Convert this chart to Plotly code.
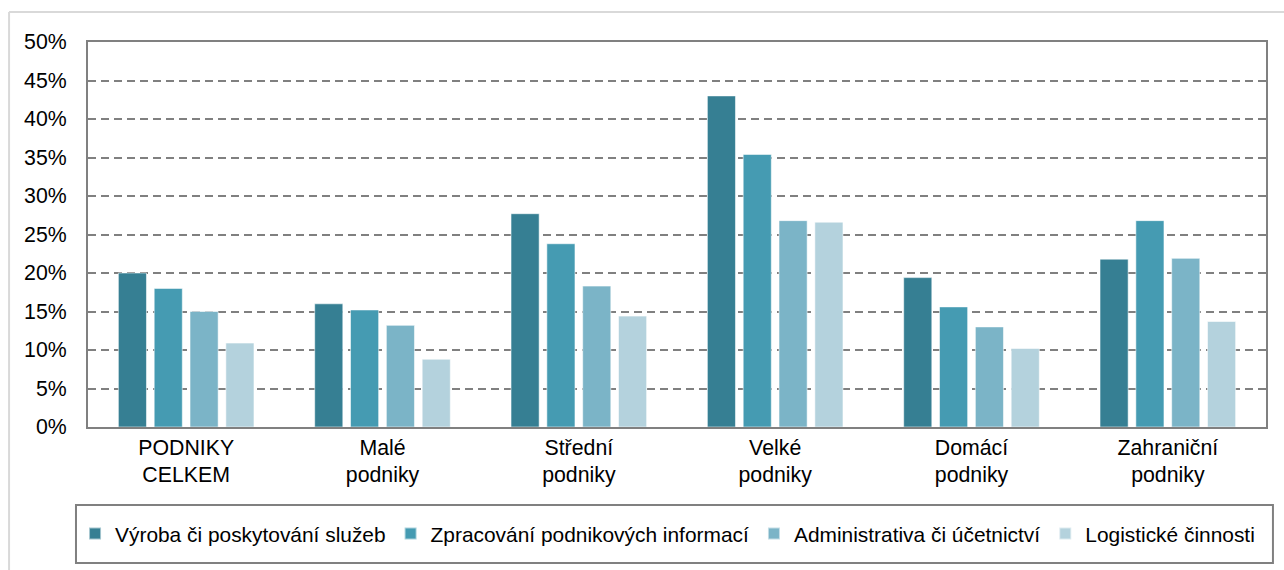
import plotly.graph_objects as go

categories = ["PODNIKY<br>CELKEM", "Malé<br>podniky", "Střední<br>podniky",
              "Velké<br>podniky", "Domácí<br>podniky", "Zahraniční<br>podniky"]
series_names = ["Výroba či poskytování služeb", "Zpracování podnikových informací",
                "Administrativa či účetnictví", "Logistické činnosti"]
vyroba = [0.200, 0.160, 0.277, 0.430, 0.194, 0.218]
zpracovani = [0.180, 0.152, 0.238, 0.354, 0.156, 0.268]
administrativa = [0.150, 0.132, 0.183, 0.268, 0.130, 0.219]
logistika = [0.109, 0.088, 0.144, 0.266, 0.102, 0.137]
colors = ["#367f93", "#459bb2", "#7bb4c7", "#b4d2dd"]
yticks = [0, 0.05, 0.10, 0.15, 0.20, 0.25, 0.30, 0.35, 0.40, 0.45, 0.50]

fig = go.Figure()
for name, vals, col in zip(series_names, [vyroba, zpracovani, administrativa, logistika], colors):
    fig.add_trace(go.Bar(x=categories, y=vals, name=name,
                         marker=dict(color=col, line=dict(color="rgba(255,255,255,0.55)", width=1))))

font = "Liberation Sans, Arial, sans-serif"
fs = 21.3
fig.update_layout(
    width=1284, height=570,
    margin=dict(l=88, r=18, t=42, b=143, autoexpand=False),
    paper_bgcolor="white", plot_bgcolor="white",
    font=dict(family=font, size=fs, color="#000000"),
    barmode="group", bargap=0.27, bargroupgap=0.215,
    showlegend=True,
    legend=dict(orientation="h", x=-0.011, xanchor="left", y=-0.278, yanchor="middle",
                bgcolor="rgba(0,0,0,0)", borderwidth=0, font=dict(size=20.9),
                itemsizing="constant"),
    xaxis=dict(showline=True, linecolor="#808080", linewidth=2, mirror=True,
               ticks="", tickfont=dict(size=fs), showgrid=False, automargin=False),
    yaxis=dict(range=[0, 0.5], tickvals=yticks, tickformat=".0%",
               showline=True, linecolor="#808080", linewidth=2, mirror=True,
               showgrid=True, gridcolor="#808080", gridwidth=2, griddash="8px,5px",
               ticks="", ticklabelstandoff=15, tickfont=dict(size=fs), zeroline=False,
               automargin=False),
    shapes=[
        dict(type="line", xref="paper", yref="paper", x0=-0.067, x1=1.1, y0=1.078, y1=1.078,
             line=dict(color="#d9d9d9", width=2)),
        dict(type="line", xref="paper", yref="paper", x0=-0.067, x1=-0.067, y0=1.078, y1=-0.5,
             line=dict(color="#d9d9d9", width=2)),
        dict(type="rect", xref="paper", yref="paper", x0=-0.0102, x1=1.0059, y0=-0.2026, y1=-0.3532,
             line=dict(color="#808080", width=2), fillcolor="rgba(0,0,0,0)"),
    ],
)
fig.write_html("out.html", config={"displayModeBar": False},
               post_script="document.body.style.margin='0';")
